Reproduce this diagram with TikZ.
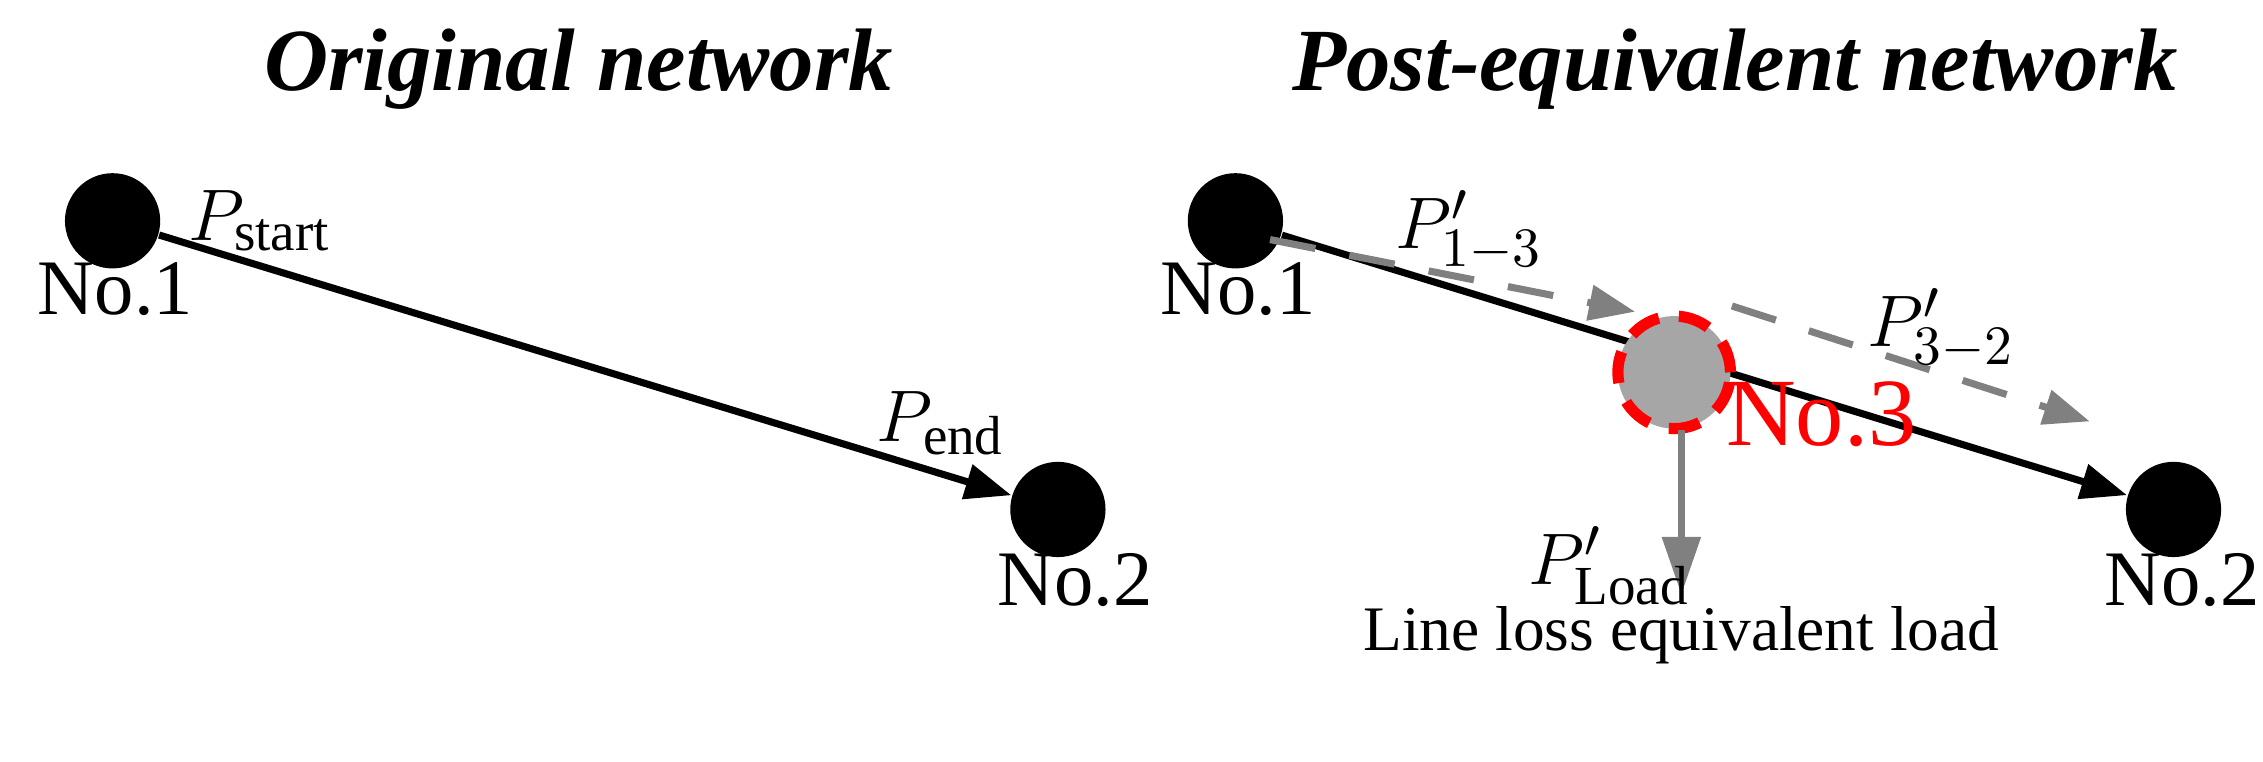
\documentclass[tikz,border=0pt]{standalone}
\usepackage{fontspec}
\setmainfont{Liberation Serif}
\usetikzlibrary{arrows.meta}
\begin{document}
\begin{tikzpicture}[x=0.1mm,y=-0.1mm,
 bus/.style={circle,fill=black,minimum size=6.6mm,inner sep=0},
 lbl/.style={font=\fontsize{15.5}{15.5}\selectfont},
 ttl/.style={font=\fontsize{17.5}{17.5}\selectfont\bfseries\itshape},
 line/.style={line width=1.4pt,-{Triangle[length=3.2mm,width=2.4mm]}},
 flow/.style={draw=gray,line width=1.4pt,dash pattern=on 3.2mm off 2.4mm,-{Triangle[length=3.2mm,width=2.4mm]}}]
\useasboundingbox (0,0) rectangle (1568,527.3);
\node[ttl] (t1) at (401,48) {Original network};
\node[ttl] (t2) at (1202,48) {Post-equivalent network};
% left
\node[bus] (a1) at (78,153) {};
\node[bus] (a2) at (733,353) {};
\node[lbl] (la1) at (80,200) {No.1};
\node[lbl] (la2) at (745,402) {No.2};
\draw[line] (a1) -- (a2);
\node[lbl] (ps) at (180,153) {$P_{\mathrm{start}}$};
\node[lbl] (pe) at (652,293) {$P_{\mathrm{end}}$};
% right
\node[bus] (b1) at (856,153) {};
\node[bus] (b2) at (1506,353) {};
\node[lbl] (lb1) at (858,200) {No.1};
\node[lbl] (lb2) at (1512,402) {No.2};
\draw[line] (b1) -- (b2);
\node[circle,fill=gray!70,draw=red,line width=2.2pt,dash pattern=on 2.2mm off 1.4mm,minimum size=7.8mm,inner sep=0] (b3) at (1160,258) {};
\node[lbl,text=red,font=\fontsize{19}{19}\selectfont] (lb3) at (1262,287) {No.3};
\coordinate (f1s) at (880,166);
\coordinate (f1e) at (1133,216);
\coordinate (f2s) at (1200,212);
\coordinate (f2e) at (1448,292);
\draw[flow] (f1s) -- (f1e);
\draw[flow] (f2s) -- (f2e);
\node[lbl] (p13) at (1018,160) {$P'_{1-3}$};
\node[lbl] (p32) at (1345,228) {$P'_{3-2}$};
\coordinate (ls) at (1165,298);
\coordinate (le) at (1165,412);
\draw[draw=gray,line width=1.4pt,-{Triangle[length=4mm,width=2.6mm,fill=gray]}] (ls) -- (le);
\node[lbl] (pl) at (1115,392) {$P'_{\mathrm{Load}}$};
\node[font=\fontsize{12.5}{12.5}\selectfont] (llt) at (1165,440) {Line loss equivalent load};
\end{tikzpicture}
\end{document}
